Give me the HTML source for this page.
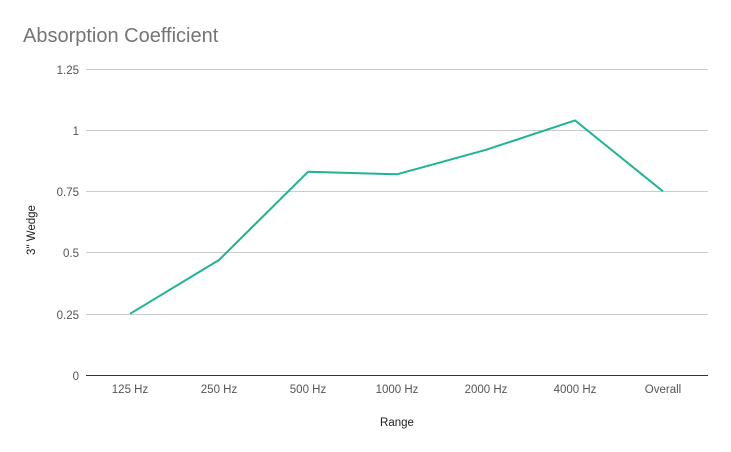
<!DOCTYPE html>
<html><head><meta charset="utf-8"><style>
html,body{margin:0;padding:0;background:#fff;}
svg{display:block;font-family:"Liberation Sans",Arial,sans-serif;}
</style></head><body>
<svg width="731" height="452" viewBox="0 0 731 452" xmlns="http://www.w3.org/2000/svg">
<rect width="731" height="452" fill="#fff"/>
<text x="23" y="42" font-size="20" fill="#757575">Absorption Coefficient</text>
<g stroke="#cccccc" stroke-width="1">
<line x1="86" x2="708" y1="69.5" y2="69.5"/>
<line x1="86" x2="708" y1="130.5" y2="130.5"/>
<line x1="86" x2="708" y1="191.5" y2="191.5"/>
<line x1="86" x2="708" y1="252.5" y2="252.5"/>
<line x1="86" x2="708" y1="314.5" y2="314.5"/>
</g>
<line x1="86" x2="708" y1="375.5" y2="375.5" stroke="#333" stroke-width="1"/>
<g font-size="11.5" fill="#555" text-anchor="end">
<text x="79" y="74">1.25</text>
<text x="79" y="135">1</text>
<text x="79" y="196">0.75</text>
<text x="79" y="257">0.5</text>
<text x="79" y="319">0.25</text>
<text x="79" y="380">0</text>
</g>
<g font-size="11.5" fill="#555" text-anchor="middle">
<text x="130" y="393">125 Hz</text>
<text x="219" y="393">250 Hz</text>
<text x="308" y="393">500 Hz</text>
<text x="397" y="393">1000 Hz</text>
<text x="486" y="393">2000 Hz</text>
<text x="575" y="393">4000 Hz</text>
<text x="663" y="393">Overall</text>
<text x="397" y="426" fill="#222">Range</text>
</g>
<text transform="translate(35,230) rotate(-90)" font-size="11.5" fill="#222" text-anchor="middle">3" Wedge</text>
<polyline fill="none" stroke="#1fb396" stroke-width="2" stroke-linejoin="round"
points="130,313.8 219,260 308,171.8 397,174.3 486,149.8 575,120.4 663,191.4"/>
</svg>
</body></html>
